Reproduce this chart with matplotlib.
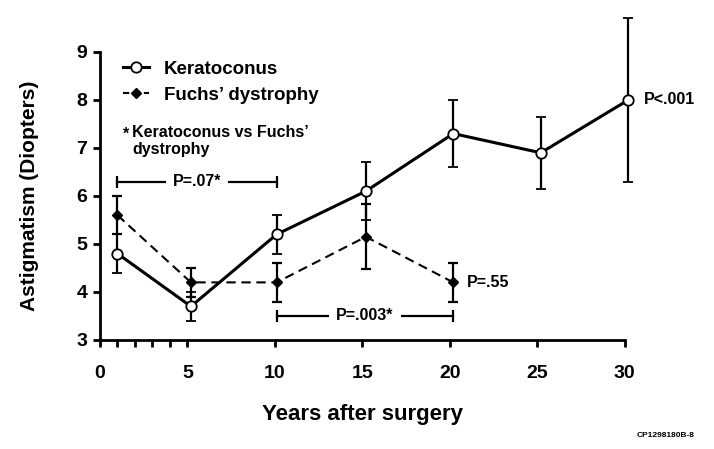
import numpy as np
import matplotlib
matplotlib.use('Agg')
import matplotlib.pyplot as plt
from matplotlib.lines import Line2D

plt.rcParams['font.family'] = ['Liberation Sans', 'DejaVu Sans']
plt.rcParams['font.weight'] = 'bold'

# data
years = [1, 5.2, 10.1, 15.2, 20.2, 25.2, 30.2]
kerato = [4.8, 3.7, 5.2, 6.1, 7.3, 6.9, 8.0]
kerato_err = [0.4, 0.3, 0.4, 0.6, 0.7, 0.75, 1.7]

fuchs_years = [1, 5.2, 10.1, 15.2, 20.2]
fuchs = [5.6, 4.2, 4.2, 5.15, 4.2]
fuchs_err = [0.4, 0.3, 0.4, 0.68, 0.4]

# comparison brackets: (x start, x end, y, label)
brackets = [(1, 10.1, 6.3, 'P=.07*'), (10.1, 20.2, 3.5, 'P=.003*')]

fig = plt.figure(figsize=(7.14, 4.49), dpi=100)
ax = fig.add_axes([0.140, 0.2428, 0.735, 0.6414])

dash = (0, (4.5, 2.7))
ax.errorbar(years, kerato, yerr=kerato_err, color='black', lw=2.2, marker='o',
            ms=7.5, mfc='white', mec='black', mew=1.3, ecolor='black', elinewidth=1.6,
            capsize=3.3, capthick=1.6, clip_on=False, zorder=3)
ax.errorbar(fuchs_years, fuchs, yerr=fuchs_err, color='black', lw=1.5, ls=dash,
            marker='D', ms=5.5, mfc='black', mec='black', ecolor='black', elinewidth=1.6,
            capsize=3.3, capthick=1.6, clip_on=False, zorder=4)

for x0, x1, y, lab in brackets:
    ax.plot([x0, x1], [y, y], color='black', lw=1.6, marker='|', ms=9, mew=1.6,
            clip_on=False)
    ax.text((x0 + x1) / 2, y, lab, ha='center', va='center', fontsize=11.5,
            bbox=dict(facecolor='white', edgecolor='none', pad=5))

ax.text(21.0, 4.2, 'P=.55', ha='left', va='center', fontsize=11.5)
ax.text(31.1, 8.0, 'P<.001', ha='left', va='center', fontsize=11.5)

ax.text(1.3, 7.28, "*", ha='left', va='center', fontsize=11.5)
ax.text(1.83, 7.15, "Keratoconus vs Fuchs\u2019\ndystrophy", ha='left', va='center',
        fontsize=11.5, linespacing=1.2)

handles = [Line2D([], [], color='black', lw=2.2, marker='o', ms=7.5, mfc='white',
                  mec='black', mew=1.3),
           Line2D([], [], color='black', lw=1.5, ls=(0, (3, 2)), marker='D', ms=5.5,
                  mfc='black')]
ax.legend(handles, ['Keratoconus', "Fuchs\u2019 dystrophy"], loc='upper left',
          bbox_to_anchor=(0.03, 0.995), frameon=False, fontsize=13.5,
          handlelength=1.4, handletextpad=0.75, labelspacing=0.45, borderaxespad=0)

ax.set_xlim(0, 30)
ax.set_ylim(3, 9)
ax.set_xticks([0, 5, 10, 15, 20, 25, 30])
ax.set_xticks([1, 2, 3, 4], minor=True)
ax.set_yticks([3, 4, 5, 6, 7, 8, 9])
ax.tick_params(which='both', direction='out', length=5, width=2, labelsize=14)
ax.tick_params(axis='x', pad=13)
ax.tick_params(axis='y', pad=4)
for s in ['top', 'right']:
    ax.spines[s].set_visible(False)
for s in ['left', 'bottom']:
    ax.spines[s].set_linewidth(2)

ax.set_xlabel('Years after surgery', fontsize=16, fontweight='bold', labelpad=16)
ax.set_ylabel('Astigmatism (Diopters)', fontsize=15, fontweight='bold', labelpad=27)

fig.text(0.973, 0.031, 'CP1298180B-8', ha='right', va='center', fontsize=6)

fig.savefig('out.png', dpi=100)
